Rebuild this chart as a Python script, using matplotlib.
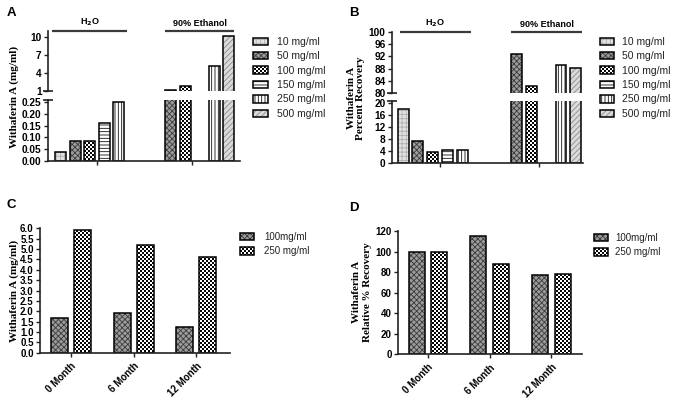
import numpy as np
import matplotlib
matplotlib.use('Agg')
import matplotlib.pyplot as plt
import matplotlib.hatch as mhatch
from matplotlib.path import Path
from matplotlib.patches import Patch
from matplotlib.legend_handler import HandlerTuple

# ---------------- data ----------------
group_labels = ['H$_\\mathbf{2}$O', '90% Ethanol']
conc_labels = ['10 mg/ml', '50 mg/ml', '100 mg/ml', '150 mg/ml', '250 mg/ml', '500 mg/ml']
a_h2o = [0.04, 0.085, 0.083, 0.16, 0.25, np.nan]
a_eth = [np.nan, 1.1, 1.85, np.nan, 5.1, 10.2]
b_h2o = [17.8, 7.5, 3.7, 4.5, 4.3, np.nan]
b_eth = [np.nan, 92.7, 82.2, np.nan, 89.2, 88.3]
a_upper_ticks = [1, 4, 7, 10]
a_lower_ticks = [0.00, 0.05, 0.10, 0.15, 0.20, 0.25]
a_lower_ticklabels = ['0.00', '0.05', '0.10', '0.15', '0.20', '0.25']
b_upper_ticks = [80, 84, 88, 92, 96, 100]
b_lower_ticks = [0, 4, 8, 12, 16, 20]
months = ['0 Month', '6 Month', '12 Month']
stab_labels = ['100mg/ml', '250 mg/ml']
c_100 = [1.66, 1.93, 1.25]
c_250 = [5.9, 5.19, 4.61]
d_100 = [100, 115, 76.7]
d_250 = [100, 87.8, 78]
c_ticks = [0.0, 0.5, 1.0, 1.5, 2.0, 2.5, 3.0, 3.5, 4.0, 4.5, 5.0, 5.5, 6.0]
c_ticklabels = ['0.0', '0.5', '1.0', '1.5', '2.0', '2.5', '3.0', '3.5', '4.0', '4.5', '5.0', '5.5', '6.0']
d_ticks = [0, 20, 40, 60, 80, 100, 120]

# ---------------- custom checker hatch ('*') ----------------
plt.rcParams['hatch.linewidth'] = 0.6


class CheckerHatch(mhatch.HatchPatternBase):
    def __init__(self, hatch, density):
        n = hatch.count('*') * 10
        self.n = n - (n % 2)
        self.num_vertices = (self.n * self.n // 2) * 5 if self.n else 0

    def set_vertices_and_codes(self, vertices, codes):
        n = self.n
        s = 1.0 / n
        shrink = plt.rcParams['hatch.linewidth'] / 72.0
        side = max(s - shrink, s * 0.3)
        o = (s - side) / 2
        sq = np.array([[0, 0], [side, 0], [side, side], [0, side], [0, 0]]) + o
        sq_codes = [Path.MOVETO, Path.LINETO, Path.LINETO, Path.LINETO, Path.CLOSEPOLY]
        parts = []
        for i in range(n):
            for j in range(n):
                if (i + j) % 2 == 0:
                    parts.append(sq + [i * s, j * s])
        vertices[:] = np.concatenate(parts)
        codes[:] = np.tile(sq_codes, n * n // 2)


mhatch._hatch_types = [t for t in mhatch._hatch_types if t is not mhatch.Stars] + [CheckerHatch]

styles = [
    dict(face='#e2e2e2', hatch='++++', hcolor='#b0b0b0'),
    dict(face='#9c9c9c', hatch='xxxxxx', hcolor='#3a3a3a'),
    dict(face='white', hatch='*****', hcolor='black'),
    dict(face='white', hatch='-----', hcolor='#111111'),
    dict(face='white', hatch='|||||', hcolor='#111111'),
    dict(face='#dadada', hatch='//////', hcolor='#8a8a8a'),
]
stab_styles = [styles[1], styles[2]]

SANS = ['Liberation Sans', 'DejaVu Sans']
SERIF = ['Liberation Serif', 'DejaVu Serif']
SPINE = '#222222'
BAR_LW = 1.1

W, H = 680, 401
fig = plt.figure(figsize=(W / 100, H / 100), dpi=100)


def px_axes(left, top, right, bottom):
    return fig.add_axes([left / W, 1 - bottom / H, (right - left) / W, (bottom - top) / H])


def hbar(ax, x, h, w, st):
    if np.isnan(h):
        return
    ax.bar(x, h, w, color=st['face'], edgecolor=st['hcolor'], hatch=st['hatch'], linewidth=0)
    ax.bar(x, h, w, fill=False, edgecolor='black', linewidth=BAR_LW)


def handles_for(sts):
    hs = []
    for st in sts:
        hs.append((Patch(facecolor=st['face'], edgecolor=st['hcolor'], hatch=st['hatch'], linewidth=0),
                   Patch(fill=False, edgecolor='black', linewidth=BAR_LW)))
    return hs


def style_axis(ax, fs):
    for s in ['top', 'right']:
        ax.spines[s].set_visible(False)
    for s in ['left', 'bottom']:
        ax.spines[s].set_linewidth(1.2)
        ax.spines[s].set_color(SPINE)
    ax.tick_params(axis='both', length=3, width=1.0, color=SPINE, pad=1.5, labelsize=fs)
    for lab in ax.get_yticklabels() + ax.get_xticklabels():
        lab.set_fontweight('bold')
        lab.set_family(SANS)


def break_mark(ax, y):
    ax.plot([0], [y], marker='_', markersize=7, mew=1.2, color=SPINE,
            transform=ax.transAxes, clip_on=False)


def broken_panel(box_up, box_lo, xlim, upper_ylim, lower_ylim, up_ticks, lo_ticks, lo_labels,
                 h2o, eth, slot, width, fs):
    ax_u = px_axes(*box_up)
    ax_l = px_axes(*box_lo)
    for ax in (ax_u, ax_l):
        for k in range(6):
            hbar(ax, 0 + (k - 2.5) * slot, h2o[k], width, styles[k])
            hbar(ax, 1 + (k - 2.5) * slot, eth[k], width, styles[k])
        ax.set_xlim(*xlim)
    ax_u.set_ylim(*upper_ylim)
    ax_l.set_ylim(*lower_ylim)
    ax_u.set_yticks(up_ticks)
    ax_u.set_yticklabels([str(t) for t in up_ticks])
    ax_l.set_yticks(lo_ticks)
    ax_l.set_yticklabels(lo_labels)
    ax_u.set_xticks([])
    ax_u.spines['bottom'].set_visible(False)
    ax_l.set_xticks([0, 1])
    ax_l.set_xticklabels(['', ''])
    style_axis(ax_u, fs)
    style_axis(ax_l, fs)
    break_mark(ax_u, 0)
    break_mark(ax_l, 1)
    return ax_u, ax_l


def group_headers(ax_u, spans):
    for lab, (x0, x1) in zip(group_labels, spans):
        ax_u.plot([x0, x1], [1.0, 1.0], color='#3a3a3a', lw=1.6,
                  transform=ax_u.get_xaxis_transform(), clip_on=False, solid_capstyle='butt')
        ax_u.text((x0 + x1) / 2, 1.05, lab, transform=ax_u.get_xaxis_transform(),
                  ha='center', va='bottom', fontsize=6.5, fontweight='bold', family=SANS)


def legend_at(ax, sts, labels, anchor, fs, hl, hh, pad, ls):
    leg = ax.legend(handles_for(sts), labels, handler_map={tuple: HandlerTuple(ndivide=1)},
                    loc='upper left', bbox_to_anchor=(anchor[0] / W, 1 - anchor[1] / H),
                    bbox_transform=fig.transFigure, frameon=False, borderpad=0, borderaxespad=0,
                    handlelength=hl, handleheight=hh, handletextpad=pad, labelspacing=ls,
                    prop={'family': SANS, 'size': fs})
    for t in leg.get_texts():
        t.set_color('#222222')
    return leg


# ---------------- Panel A ----------------
slotA, widthA = 0.153, 0.115
axA_u, axA_l = broken_panel((48, 31, 240, 91), (48, 100, 240, 161), (-0.514, 1.50),
                            (1, 11), (0, 0.2585), a_upper_ticks, a_lower_ticks, a_lower_ticklabels,
                            a_h2o, a_eth, slotA, widthA, 7.3)
group_headers(axA_u, [(-2.5 * slotA - widthA / 2 - 0.03, 1.5 * slotA + widthA / 2 + 0.03),
                      (1 - 1.5 * slotA - widthA / 2, 1 + 2.5 * slotA + widthA / 2)])
fig.text(14 / W, 1 - 97 / H, 'Withaferin A (mg/ml)', rotation=90, ha='center', va='center',
         fontsize=8, fontweight='bold', family=SERIF)
legend_at(axA_l, styles, conc_labels, (253, 37), 7.5, 1.45, 0.7, 0.85, 0.42)

# ---------------- Panel B ----------------
slotB, widthB = 0.150, 0.111
axB_u, axB_l = broken_panel((392, 32, 583, 93), (392, 101, 583, 163.3), (-0.488, 1.448),
                            (80, 100), (0, 20.5), b_upper_ticks, b_lower_ticks,
                            [str(t) for t in b_lower_ticks],
                            b_h2o, b_eth, slotB, widthB, 7.3)
group_headers(axB_u, [(-2.5 * slotB - widthB / 2 + 0.02, 1.5 * slotB + widthB / 2 + 0.03),
                      (1 - 1.5 * slotB - widthB / 2, 1 + 2.5 * slotB + widthB / 2 + 0.01)])
fig.text(356 / W, 1 - 98 / H, 'Withaferin A\nPercent Recovery', rotation=90, ha='center', va='center',
         fontsize=8, fontweight='bold', family=SERIF, linespacing=1.0, multialignment='center')
legend_at(axB_l, styles, conc_labels, (600, 37), 7.5, 1.3, 0.7, 0.85, 0.42)


# ---------------- Panels C and D ----------------
def stab_panel(box, xlim, ylim, ticks, ticklabels, v100, v250, off, width, fs, leg_anchor, pad):
    ax = px_axes(*box)
    x = np.arange(len(months))
    for i in range(len(months)):
        hbar(ax, x[i] - off, v100[i], width, stab_styles[0])
        hbar(ax, x[i] + off, v250[i], width, stab_styles[1])
    ax.set_xlim(*xlim)
    ax.set_ylim(*ylim)
    ax.set_yticks(ticks)
    ax.set_yticklabels(ticklabels)
    ax.set_xticks(x)
    ax.set_xticklabels(months, rotation=45, ha='right', va='top', rotation_mode='anchor')
    style_axis(ax, fs)
    ax.tick_params(axis='x', pad=3)
    legend_at(ax, stab_styles, stab_labels, leg_anchor, 7.0, 1.45, 0.75, pad, 0.45)
    return ax


axC = stab_panel((40, 228, 230, 352.7), (-0.496, 2.54), (0, 6.02), c_ticks, c_ticklabels,
                 c_100, c_250, 0.184, 0.27, 7.0, (240, 232), 1.05)
fig.text(14 / W, 1 - 291 / H, 'Withaferin A (mg/ml)', rotation=90, ha='center', va='center',
         fontsize=8, fontweight='bold', family=SERIF)

axD = stab_panel((398, 230.5, 582, 354), (-0.49, 2.50), (0, 120.5), d_ticks,
                 [str(t) for t in d_ticks], d_100, d_250, 0.184, 0.26, 7.0, (594, 233), 0.75)
fig.text(362 / W, 1 - 292 / H, 'Withaferin A\nRelative % Recovery', rotation=90, ha='center',
         va='center', fontsize=8, fontweight='bold', family=SERIF, linespacing=1.15,
         multialignment='center')

# ---------------- panel letters ----------------
for lab, (px, py) in zip(['A', 'B', 'C', 'D'], [(11, 13), (354, 13), (11, 205), (354, 208)]):
    fig.text(px / W, 1 - py / H, lab, ha='center', va='center', fontsize=9.5, fontweight='bold',
             family=SANS)

fig.savefig('out.png', dpi=100)
